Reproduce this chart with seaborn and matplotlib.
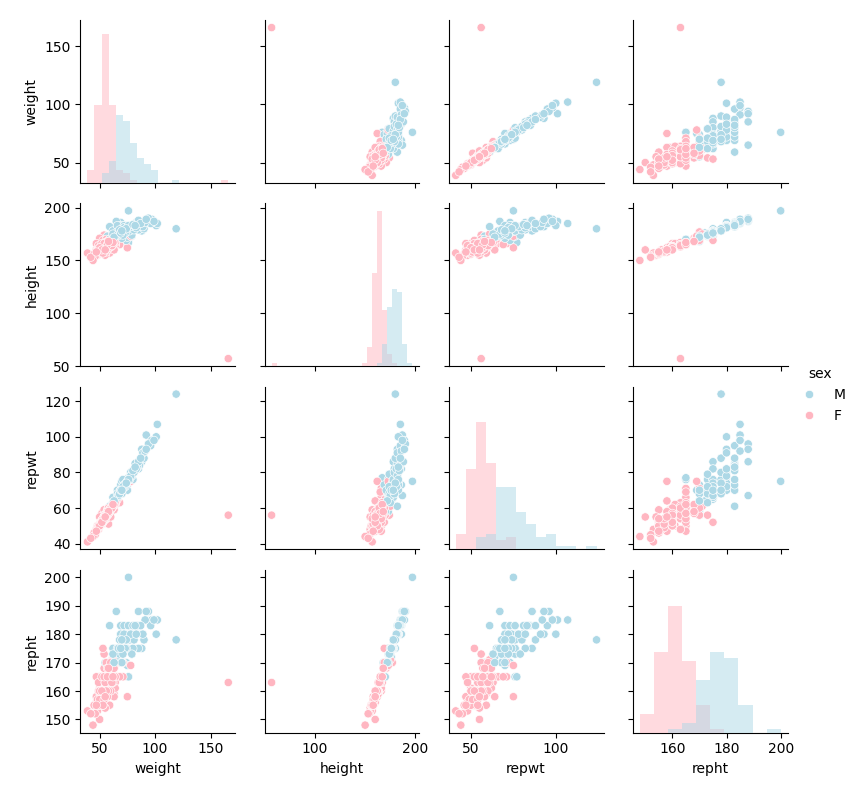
import matplotlib
matplotlib.use("Agg")
import matplotlib.pyplot as plt
import numpy as np
import pandas as pd
import seaborn as sns

NA = np.nan
rows = """M 77 182 77 180
F 58 161 51 159
F 53 161 54 158
M 68 177 70 175
F 59 157 59 155
M 76 170 76 165
M 76 167 77 165
M 69 186 73 180
M 71 178 71 175
M 65 171 64 170
M 70 175 75 174
F 166 57 56 163
F 51 161 52 158
F 64 168 64 165
F 52 163 57 160
F 65 166 66 165
M 92 187 101 185
F 62 168 62 165
M 76 197 75 200
F 61 175 61 171
M 119 180 124 178
F 61 170 61 170
M 65 175 66 173
M 66 173 70 170
F 54 171 59 168
F 50 166 50 165
F 63 169 61 168
F 58 166 60 160
F 39 157 41 153
M 101 183 100 180
F 71 166 71 165
M 75 178 73 175
M 79 173 76 173
F 52 164 52 161
F 68 169 63 170
M 64 176 65 175
F 56 166 54 165
M 69 174 69 171
M 88 178 86 175
M 65 187 67 188
F 54 164 53 160
M 80 178 80 178
F 63 163 59 159
M 78 183 80 180
M 85 179 82 175
F 54 160 55 158
M 73 180 NA NA
F 49 161 NA NA
F 54 174 56 173
F 75 162 75 158
M 82 182 85 183
F 56 165 57 163
M 74 169 73 170
M 102 185 107 185
M 64 177 NA NA
M 65 176 64 172
F 66 170 65 NA
M 73 183 74 180
M 75 172 70 169
M 57 173 58 170
F 68 165 69 165
F 71 177 71 170
M 71 180 76 175
F 78 173 75 169
M 97 189 98 185
F 60 162 59 160
F 64 165 63 163
F 64 164 62 161
F 52 158 51 155
M 80 178 76 175
F 62 175 61 171
M 66 173 66 175
F 55 165 54 163
F 56 163 57 159
F 50 166 50 161
F 50 171 NA NA
F 50 160 55 150
F 63 160 64 158
M 69 182 70 180
M 69 183 70 183
F 61 165 60 163
M 55 168 56 170
F 53 169 52 175
F 60 167 55 163
F 56 170 56 170
M 59 182 61 183
M 62 178 66 175
F 53 165 53 165
F 57 163 59 160
F 57 162 56 160
M 70 173 68 170
F 47 160 47 158
M 88 182 93 180
M 66 183 NA NA
F 47 160 48 156
F 48 162 NA NA
M 57 165 56 163
F 50 163 NA NA
M 59 170 58 165
F 47 166 47 165
F 55 155 55 154
F 48 157 50 155
M 79 174 79 173
F 52 160 53 158
M 66 177 68 175
F 54 164 55 163
F 54 163 54 160
M 75 178 75 178
F 51 158 52 155
F 52 162 53 160
M 70 171 70 170
F 49 164 48 163
M 83 186 82 183
F 57 162 58 160
M 70 177 70 175
F 58 164 60 163
M 72 183 73 183
F 48 155 48 153
F 56 158 56 158
M 90 180 88 178
F 45 156 46 155
M 86 185 84 183
F 60 163 60 160
F 52 163 52 160
M 74 177 74 175
F 59 164 58 163
M 68 174 68 173
F 53 158 53 155
F 55 167 55 165
M 84 184 83 183
F 49 156 50 155
M 79 181 78 180
F 54 162 55 160
F 61 166 60 165
M 77 178 76 178
F 50 157 50 155
M 62 175 63 173
F 57 168 57 168
M 96 185 95 183
F 46 154 45 152
F 60 169 60 170
M 67 175 67 175
F 53 161 53 160
F 58 165 57 163
M 89 182 91 180
F 51 160 52 158
M 73 176 72 175
F 64 167 63 165
M 81 179 80 178
F 56 163 56 160
F 48 159 49 157
M 72 181 72 180
F 55 164 54 163
M 94 190 96 188
F 62 165 61 163
F 50 158 51 157
M 68 179 68 178
F 57 160 58 158
M 78 182 78 180
F 52 166 52 165
F 44 150 44 148
M 85 188 86 188
F 59 166 59 165
M 71 174 72 173
F 54 159 54 157
F 63 168 62 168
M 76 183 76 183
F 49 161 50 160
M 91 186 92 185
F 58 162 57 160
F 55 163 56 163
M 63 172 64 170
F 51 162 51 160
M 83 181 82 180
F 60 166 60 165
F 53 157 54 155
M 99 187 98 185
F 56 161 56 160
M 69 176 70 175
F 42 153 43 152
F 61 164 60 163
M 87 185 88 183
F 54 166 54 165
M 74 180 74 178
F 57 165 57 165
F 50 162 50 160
M 80 184 81 183
F 62 167 62 165
M 92 189 93 188
F 52 160 52 160
F 47 158 47 155
M 70 178 70 178
F 58 168 58 168
M 82 183 83 183
F 55 160 55 158"""

def num(s):
    return NA if s == "NA" else float(s)

parts = [r.split() for r in rows.splitlines()]
sex = [p[0] for p in parts]
weight = [num(p[1]) for p in parts]
height = [num(p[2]) for p in parts]
repwt = [num(p[3]) for p in parts]
repht = [num(p[4]) for p in parts]

df = pd.DataFrame({"sex": sex, "weight": weight, "height": height,
                   "repwt": repwt, "repht": repht})

g = sns.PairGrid(df, hue="sex", palette=["lightblue", "lightpink"], height=2)
g.map_diag(sns.histplot, linewidth=0)
g.map_offdiag(sns.scatterplot)
g.add_legend()
for ax in g.axes[-1]:
    pass
g.axes[3, 3].set_xticks([160, 180, 200])
g.axes[3, 0].set_yticks([150, 160, 170, 180, 190, 200])
g.figure.set_size_inches(8.58, 7.9)
g.figure.savefig("out.png", dpi=100)
